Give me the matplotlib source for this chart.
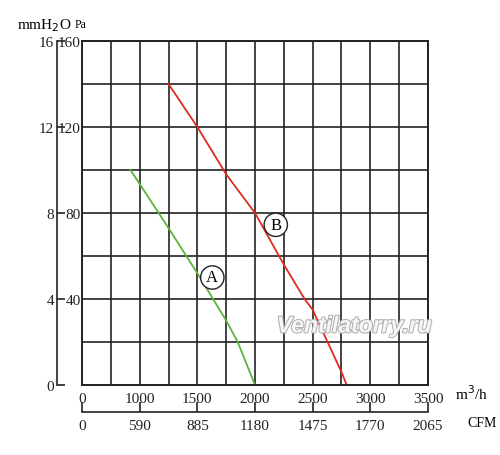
import matplotlib
matplotlib.use("Agg")
import matplotlib.pyplot as plt
import matplotlib.patheffects as pe

# airflow (m3/h) and static pressure (Pa)
# note: the x axis is broken, the first cell starts at 500 but is labelled 0
flow_a = [920, 1000, 1250, 1500, 1750, 1850, 2000]
pres_a = [100, 93.5, 73, 52, 30, 20, 0]
flow_b = [1250, 1500, 1750, 2000, 2250, 2430, 2500, 2750, 2795]
pres_b = [140, 120, 98, 80, 56, 40, 35, 6, 0]

x_ticks = [500, 1000, 1500, 2000, 2500, 3000, 3500]
x_labels = ["0", "1000", "1500", "2000", "2500", "3000", "3500"]
cfm_labels = ["0", "590", "885", "1180", "1475", "1770", "2065"]
pa_ticks = [0, 40, 80, 120, 160]
pa_labels = ["", "40", "80", "120", "160"]
mm_ticks = [0, 4, 8, 12, 16]

plt.rcParams['font.family'] = ['Liberation Serif', 'DejaVu Serif']

fig = plt.figure(figsize=(5, 4.56), dpi=100)
ax = fig.add_axes([0.164, 0.1535, 0.692, 0.7545])

ax.plot(flow_a, pres_a, color='#5cb43c', lw=1.3)
ax.plot(flow_b, pres_b, color='#e02a1e', lw=1.3)

ax.set_xlim(500, 3500)
ax.set_ylim(0, 160)
ax.set_xticks(x_ticks, x_labels)
ax.set_xticks(range(750, 3500, 500), minor=True)
ax.set_yticks(pa_ticks, pa_labels)
ax.set_yticks([20, 60, 100, 140], minor=True)
ax.grid(which='both', color='#222222', lw=1.2)
ax.tick_params(which='both', length=0, labelsize=11, colors='#222222')
ax.tick_params(axis='x', pad=5)
ax.tick_params(axis='y', pad=1)
for s in ax.spines.values():
    s.set_color('#222222')
    s.set_linewidth(1.4)

# mmH2O axis on the left
sec_y = ax.secondary_yaxis(-0.073, functions=(lambda p: p / 10, lambda m: m * 10))
sec_y.set_yticks(mm_ticks)
sec_y.tick_params(direction='in', length=6, width=1.2, labelsize=11, pad=2, colors='#222222')
sec_y.spines['left'].set_linewidth(1.2)
sec_y.spines['left'].set_color('#222222')

# CFM axis below
sec_x = ax.secondary_xaxis(-0.079, functions=(lambda v: v, lambda v: v))
sec_x.set_xticks(x_ticks, cfm_labels)
sec_x.tick_params(direction='in', length=7, width=1.2, labelsize=11, pad=5, colors='#222222')
sec_x.spines['bottom'].set_linewidth(1.2)
sec_x.spines['bottom'].set_color('#222222')

# curve labels
for lbl, x, y in [("A", 1630, 50), ("B", 2180, 74.5)]:
    ax.text(x, y, lbl, fontsize=12, ha='center', va='center',
            bbox=dict(boxstyle='circle,pad=0.22', fc='white', ec='#222222', lw=1.0))

# unit labels
fig.text(0.034, 0.943, "mmH$_2$O", fontsize=11, va='center', ha='left')
fig.text(0.15, 0.945, "Pa", fontsize=8.5, va='center', ha='left')
fig.text(0.91, 0.136, "m$^3$/h", fontsize=11, va='center', ha='left')
fig.text(0.934, 0.071, "CFM", fontsize=10, va='center', ha='left')

# watermark
ax.text(2860, 27.5, "Ventilatorry.ru", fontsize=16.5, family='Liberation Sans',
        weight='bold', style='italic', color='#f6f6f6', ha='center', va='center',
        clip_on=False, zorder=5,
        path_effects=[pe.withStroke(linewidth=1.5, foreground='#b0b0b0')])

fig.savefig("out.png", dpi=100, facecolor='white')
